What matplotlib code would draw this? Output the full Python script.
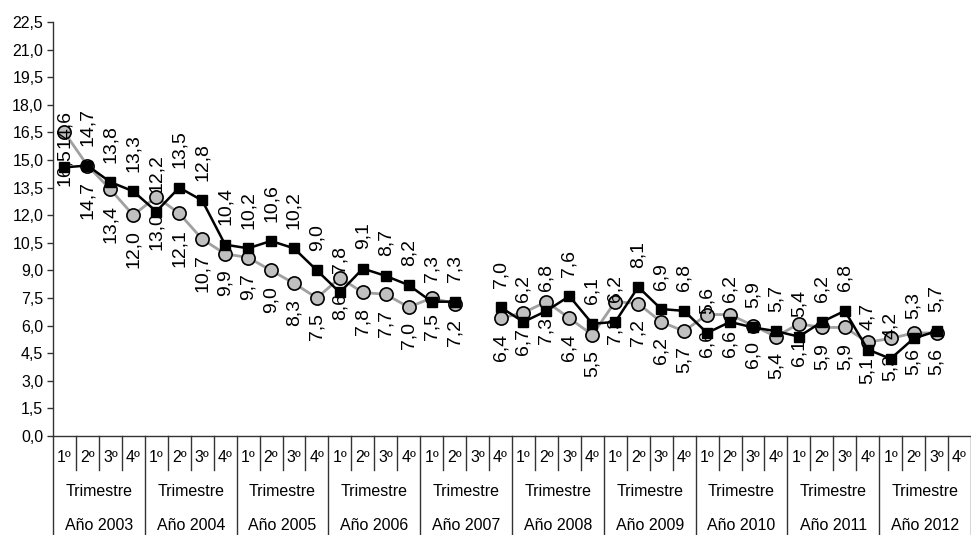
import numpy as np
import matplotlib
matplotlib.use("Agg")
import matplotlib.pyplot as plt
from matplotlib.transforms import blended_transform_factory

plt.rcParams['font.family'] = ['Liberation Sans', 'DejaVu Sans']

years = ["Año 2003", "Año 2004", "Año 2005", "Año 2006", "Año 2007",
         "Año 2008", "Año 2009", "Año 2010", "Año 2011", "Año 2012"]
quarters = ["1º", "2º", "3º", "4º"]
group_label = "Trimestre"
y_ticks = [0.0, 1.5, 3.0, 4.5, 6.0, 7.5, 9.0, 10.5, 12.0, 13.5, 15.0,
           16.5, 18.0, 19.5, 21.0, 22.5]

# black squares series
serie_cuadrados = [14.6, 14.7, 13.8, 13.3,
                   12.2, 13.5, 12.8, 10.4,
                   10.2, 10.6, 10.2, 9.0,
                   7.8, 9.1, 8.7, 8.2,
                   7.3, 7.3, None, 7.0,
                   6.2, 6.8, 7.6, 6.1,
                   6.2, 8.1, 6.9, 6.8,
                   5.6, 6.2, 5.9, 5.7,
                   5.4, 6.2, 6.8, 4.7,
                   4.2, 5.3, 5.7, None]
# grey circles series
serie_circulos = [16.5, 14.7, 13.4, 12.0,
                  13.0, 12.1, 10.7, 9.9,
                  9.7, 9.0, 8.3, 7.5,
                  8.6, 7.8, 7.7, 7.0,
                  7.5, 7.2, None, 6.4,
                  6.7, 7.3, 6.4, 5.5,
                  7.3, 7.2, 6.2, 5.7,
                  6.6, 6.6, 6.0, 5.4,
                  6.1, 5.9, 5.9, 5.1,
                  5.3, 5.6, 5.6, None]

def arr(v):
    return np.array([np.nan if a is None else a for a in v], dtype=float)

sq = arr(serie_cuadrados)
ci = arr(serie_circulos)
n = len(years) * len(quarters)
x = np.arange(n)

W, H = 971, 535
fig = plt.figure(figsize=(W / 100, H / 100), dpi=100)
left_px, right_px, top_px, bot_px = 53, 971, 22, 436
ax = fig.add_axes([left_px / W, 1 - bot_px / H, (right_px - left_px) / W, (bot_px - top_px) / H])

ax.plot(x, ci, color='#a0a0a0', lw=2.0, marker='o', ms=9.5, mfc='#c0c0c0',
        mec='black', mew=1.2, zorder=3, clip_on=False)
ax.plot(x, sq, color='black', lw=1.8, marker='s', ms=7.5, mfc='black',
        mec='black', zorder=4, clip_on=False)

fmt = lambda v: f"{v:.1f}".replace('.', ',')
for xi, v in zip(x, sq):
    if np.isnan(v):
        continue
    ax.annotate(fmt(v), (xi, v), xytext=(0, 14), textcoords='offset points',
                rotation=90, ha='center', va='bottom', fontsize=14, zorder=6)
for xi, v in zip(x, ci):
    if np.isnan(v):
        continue
    ax.annotate(fmt(v), (xi, v), xytext=(0, -11), textcoords='offset points',
                rotation=90, ha='center', va='top', fontsize=14, zorder=6)

ax.set_xlim(-0.5, n - 0.5)
ax.set_ylim(0, 22.5)
ax.set_yticks(y_ticks)
ax.set_yticklabels([fmt(t) for t in y_ticks], fontsize=11.5)
ax.tick_params(axis='y', direction='out', length=4, width=1, colors='#333333',
               labelcolor='black', pad=3)
ax.set_xticks([])
for s in ['top', 'right']:
    ax.spines[s].set_visible(False)
for s in ['left', 'bottom']:
    ax.spines[s].set_color('#333333')
    ax.spines[s].set_linewidth(1)

ph = bot_px - top_px
def yax(py):
    return (bot_px - py) / ph

tr = blended_transform_factory(ax.transData, ax.transAxes)
# quarter dividers and year dividers
for b in range(n + 1):
    xb = b - 0.5
    if b % 4 == 0:
        ax.plot([xb, xb], [0, yax(540)], color='#333333', lw=1,
                transform=tr, clip_on=False)
    else:
        ax.plot([xb, xb], [0, yax(470)], color='#333333', lw=1,
                transform=tr, clip_on=False)

for i in range(n):
    ax.text(i, yax(458), quarters[i % 4], transform=tr, ha='center',
            va='center', fontsize=11.5)
for k, yr in enumerate(years):
    xc = 4 * k + 1.5
    ax.text(xc, yax(491), group_label, transform=tr, ha='center',
            va='center', fontsize=11.5)
    ax.text(xc, yax(526), yr, transform=tr, ha='center', va='center',
            fontsize=11.5)

fig.savefig("out.png", dpi=100)
